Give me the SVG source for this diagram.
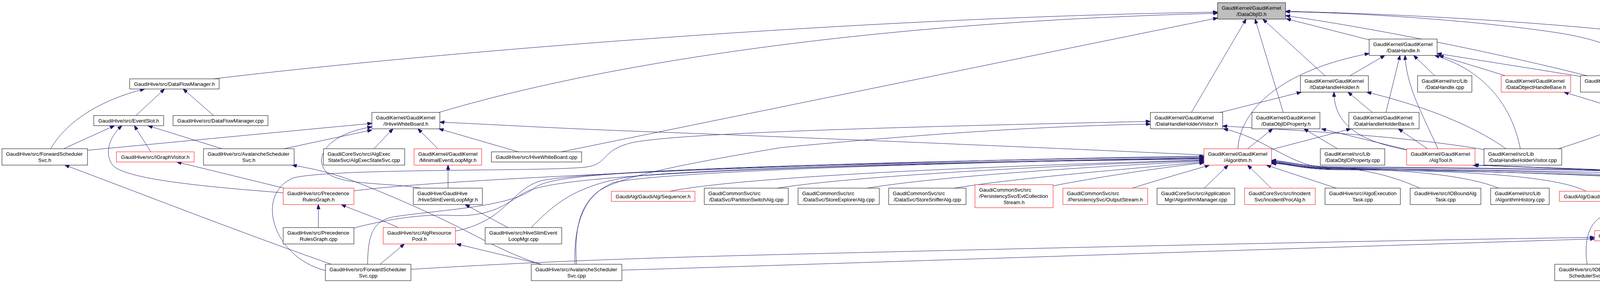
<svg xmlns="http://www.w3.org/2000/svg" width="4994" height="725" viewBox="0 0 4994 725">
<style>
.n rect{fill:#fff;stroke:#000;stroke-width:1}
.r rect{stroke:#f00}
.g rect{fill:#bfbfbf}
text{font-family:"Liberation Sans",Arial,Helvetica,sans-serif;font-size:13.33px;fill:#000}
.m{text-anchor:middle}
.s{text-anchor:start}
#edges path{fill:none;stroke:#191970;stroke-width:1;marker-end:url(#a)}
</style>
<defs>
<marker id="a" markerUnits="userSpaceOnUse" markerWidth="12" markerHeight="9" viewBox="0 0 12 9" refX="11.5" refY="4.5" orient="auto"><path d="M0,0 L12,4.5 L0,9 z" fill="#191970" stroke="#191970" stroke-width="1"/></marker>
</defs>
<rect x="0" y="0" width="4994" height="725" fill="#fff"/>
<g id="edges">
<path d="M547,202 C1100,135 2200,45 3117,31"/>
<path d="M1124,288 C1450,190 2100,60 3117,34"/>
<path d="M1437,389 L3117,46"/>
<path d="M3050,288 L3190,49"/>
<path d="M3285,288 L3213,49"/>
<path d="M3392,194 L3233,49"/>
<path d="M3505,102 L3293,48"/>
<path d="M4300,100 C4150,72 3700,38 3291,29"/>
<path d="M3990,381 C4150,330 4250,290 4247,235 C4245,170 4150,110 3994,85 C3800,55 3500,33 3291,30"/>
<path d="M4063,194 C3800,128 3500,70 3291,40"/>
<path d="M3169,381 C3175,280 3280,180 3505,137"/>
<path d="M3456,194 L3545,142"/>
<path d="M3548,288 L3584,142"/>
<path d="M3681,381 C3640,290 3600,220 3597,142"/>
<path d="M3673,194 L3619,142"/>
<path d="M3892,381 C3870,270 3800,180 3673,142"/>
<path d="M3854,194 L3684,142"/>
<path d="M4048,196 L3679,137"/>
<path d="M3124,288 L3331,236"/>
<path d="M3601,384 C3500,365 3415,330 3415,236"/>
<path d="M3513,288 L3451,236"/>
<path d="M3855,381 C3770,320 3640,270 3499,236"/>
<path d="M4807,482 L4004,236"/>
<path d="M3255,383 L3458,330"/>
<path d="M3654,381 L3580,330"/>
<path d="M3194,381 L3258,330"/>
<path d="M3424,381 L3338,330"/>
<path d="M3600,383 L3383,330"/>
<path d="M3799,383 C3600,350 3350,335 3130,323"/>
<path d="M4063,677 C4055,620 4065,575 4100,555 C4150,545 4245,540 4262,515 C4275,490 4240,462 4180,455 C3900,440 3500,432 3380,428 C3300,420 3230,350 3132,330"/>
<path d="M833,693 C700,660 650,500 750,456 C850,430 1400,440 1500,428 C1560,420 1535,385 1620,365 C1750,340 2300,325 2945,311"/>
<path d="M1476,677 C1470,600 1480,520 1540,485 C1600,450 1750,420 2000,378 C2400,340 2700,322 2945,318"/>
<path d="M224,385 L952,316"/>
<path d="M727,381 L952,333"/>
<path d="M1076,482 C1000,468 880,475 840,445 C800,410 830,345 952,325"/>
<path d="M957,381 L1006,330"/>
<path d="M1121,381 L1070,330"/>
<path d="M1327,389 L1124,330"/>
<path d="M3082,397 C2600,375 2000,350 1674,338 C1400,328 1250,318 1126,313"/>
<path d="M130,381 C170,310 260,255 370,228"/>
<path d="M348,296 L421,228"/>
<path d="M547,296 L469,228"/>
<path d="M163,381 L293,322"/>
<path d="M725,494 C550,480 330,462 290,425 C265,395 280,350 312,322"/>
<path d="M386,389 L344,322"/>
<path d="M568,381 L379,322"/>
<path d="M727,482 L453,415"/>
<path d="M815,583 L815,524"/>
<path d="M1019,583 C970,560 910,540 874,524"/>
<path d="M1383,677 C1300,650 1230,610 1180,585 C1100,545 1000,500 900,462 C840,440 790,430 748,423"/>
<path d="M848,677 C600,590 320,480 166,423"/>
<path d="M973,677 L1035,625"/>
<path d="M1386,677 L1169,625"/>
<path d="M1300,583 L1191,524"/>
<path d="M1147,482 L1147,423"/>
<path d="M906,489 C1150,455 2300,410 3082,400"/>
<path d="M1166,592 C1300,565 1310,480 1390,462 C1550,432 2500,408 3082,402"/>
<path d="M941,677 C942,600 955,565 1010,555 C1150,535 1310,530 1370,480 C1420,445 1650,428 3082,404"/>
<path d="M1472,677 C1468,585 1490,500 1570,468 C1700,436 2600,412 3082,406"/>
<path d="M1360,583 C1420,520 1480,472 1620,452 C1850,428 2600,412 3082,408"/>
<path d="M906,584 C1000,560 1080,548 1160,552 C1260,556 1300,520 1340,495 C1400,458 1700,430 3082,405"/>
<path d="M1715,490 C1850,462 2300,432 3082,410"/>
<path d="M1990,482 C2200,448 2800,420 3082,411"/>
<path d="M2220,482 C2400,452 2800,426 3082,413"/>
<path d="M2443,482 C2600,456 2900,432 3082,415"/>
<path d="M2696,476 C2800,456 2950,432 3082,417"/>
<path d="M2899,482 C2960,462 3040,440 3096,423"/>
<path d="M3083,482 L3144,423"/>
<path d="M3254,482 L3194,423"/>
<path d="M3421,482 L3242,423"/>
<path d="M3634,482 C3590,460 3500,432 3420,430 C3330,430 3290,419 3255,419"/>
<path d="M3836,482 C3760,450 3600,434 3420,432 C3330,431 3290,417 3255,417"/>
<path d="M4061,490 C3990,455 3800,437 3420,434 C3330,433 3290,416 3255,416"/>
<path d="M4466,482 C4300,446 3900,436 3420,431 C3330,430 3290,414 3255,414"/>
<path d="M4790,482 C4600,442 4000,432 3420,429 C3330,428 3290,412 3255,412"/>
<path d="M4224,591 C4262,555 4290,510 4287,485 C4282,465 4240,455 4185,453 C3900,440 3600,436 3420,435 C3330,434 3290,418 3255,418"/>
<path d="M4341,677 C4350,600 4345,530 4313,485 C4290,460 4230,446 4185,444 C3900,436 3600,433 3420,433 C3330,432 3290,415 3255,415"/>
<path d="M4645,685 C4800,650 4938,600 4975,550 C4995,510 4985,475 4930,462 C4700,440 3800,430 3420,427 C3330,427 3290,411 3255,411"/>
<path d="M4640,482 C4450,446 4000,432 3770,423"/>
<path d="M4795,482 C4600,446 4000,432 3772,423"/>
<path d="M4568,685 C4504,601 4440,532 4345,475 C4250,440 4000,430 3774,423"/>
<path d="M1052,690 C1250,678 1500,664 2000,652 C2800,632 3500,617 4082,608"/>
<path d="M1592,692 C2000,680 3200,640 4082,612"/>
<path d="M4099,677 L4179,617"/>
<path d="M4303,677 L4227,617"/>
<path d="M4523,685 L4255,617"/>
<path d="M4313,591 L4791,524"/>
<path d="M4389,677 L4804,524"/>
</g>
<g id="n0" class="n g"><rect x="3117" y="7" width="174" height="42"/><text class="s" x="3127.5" y="24.5">GaudiKernel/GaudiKernel</text><text class="m" x="3204" y="40.5">/DataObjID.h</text></g>
<g id="n1" class="n"><rect x="3505" y="100" width="174" height="42"/><text class="s" x="3515.5" y="117.5">GaudiKernel/GaudiKernel</text><text class="m" x="3592" y="133.5">/DataHandle.h</text></g>
<g id="n2" class="n"><rect x="4293" y="100" width="139" height="42"/><text class="s" x="4303.5" y="117.5">GaudiKernel/src/Lib</text><text class="m" x="4362.5" y="133.5">/DataObjID.cpp</text></g>
<g id="n3" class="n"><rect x="332" y="202" width="229" height="26"/><text class="m" x="446.5" y="220">GaudiHive/src/DataFlowManager.h</text></g>
<g id="n4" class="n"><rect x="3329" y="194" width="174" height="42"/><text class="s" x="3339.5" y="211.5">GaudiKernel/GaudiKernel</text><text class="m" x="3416" y="227.5">/IDataHandleHolder.h</text></g>
<g id="n5" class="n"><rect x="3629" y="194" width="139" height="42"/><text class="s" x="3639.5" y="211.5">GaudiKernel/src/Lib</text><text class="m" x="3698.5" y="227.5">/DataHandle.cpp</text></g>
<g id="n6" class="n r"><rect x="3843" y="194" width="178" height="42"/><text class="s" x="3853.5" y="211.5">GaudiKernel/GaudiKernel</text><text class="m" x="3932" y="227.5">/DataObjectHandleBase.h</text></g>
<g id="n7" class="n"><rect x="4046" y="194" width="173" height="42"/><text class="s" x="4056.5" y="211.5">GaudiKernel/GaudiKernel</text><text class="m" x="4132.5" y="227.5">/ICondSvc.h</text></g>
<g id="n8" class="n"><rect x="240" y="296" width="179" height="26"/><text class="m" x="329.5" y="314">GaudiHive/src/EventSlot.h</text></g>
<g id="n9" class="n"><rect x="443" y="296" width="243" height="26"/><text class="m" x="564.5" y="314">GaudiHive/src/DataFlowManager.cpp</text></g>
<g id="n10" class="n"><rect x="952" y="288" width="174" height="42"/><text class="s" x="962.5" y="305.5">GaudiKernel/GaudiKernel</text><text class="m" x="1039" y="321.5">/IHiveWhiteBoard.h</text></g>
<g id="n11" class="n"><rect x="2945" y="288" width="185" height="42"/><text class="s" x="2955.5" y="305.5">GaudiKernel/GaudiKernel</text><text class="m" x="3037.5" y="321.5">/DataHandleHolderVisitor.h</text></g>
<g id="n12" class="n"><rect x="3205" y="288" width="174" height="42"/><text class="s" x="3215.5" y="305.5">GaudiKernel/GaudiKernel</text><text class="m" x="3292" y="321.5">/DataObjIDProperty.h</text></g>
<g id="n13" class="n"><rect x="3453" y="288" width="180" height="42"/><text class="s" x="3463.5" y="305.5">GaudiKernel/GaudiKernel</text><text class="m" x="3543" y="321.5">/DataHandleHolderBase.h</text></g>
<g id="n14" class="n"><rect x="5" y="381" width="219" height="42"/><text class="s" x="15.5" y="398.5">GaudiHive/src/ForwardScheduler</text><text class="m" x="114.5" y="414.5">Svc.h</text></g>
<g id="n15" class="n r"><rect x="298" y="389" width="199" height="26"/><text class="m" x="397.5" y="407">GaudiHive/src/IGraphVisitor.h</text></g>
<g id="n16" class="n"><rect x="521" y="381" width="232" height="42"/><text class="s" x="531.5" y="398.5">GaudiHive/src/AvalancheScheduler</text><text class="m" x="637" y="414.5">Svc.h</text></g>
<g id="n17" class="n"><rect x="828" y="381" width="208" height="42"/><text class="s" x="838.5" y="398.5">GaudiCoreSvc/src/AlgExec</text><text class="m" x="932" y="414.5">StateSvc/AlgExecStateSvc.cpp</text></g>
<g id="n18" class="n r"><rect x="1060" y="381" width="173" height="42"/><text class="s" x="1070.5" y="398.5">GaudiKernel/GaudiKernel</text><text class="m" x="1146.5" y="414.5">/MinimalEventLoopMgr.h</text></g>
<g id="n19" class="n"><rect x="1258" y="389" width="231" height="26"/><text class="m" x="1373.5" y="407">GaudiHive/src/HiveWhiteBoard.cpp</text></g>
<g id="n20" class="n r"><rect x="3082" y="381" width="173" height="42"/><text class="s" x="3092.5" y="398.5">GaudiKernel/GaudiKernel</text><text class="m" x="3168.5" y="414.5">/Algorithm.h</text></g>
<g id="n21" class="n"><rect x="3380" y="381" width="165" height="42"/><text class="s" x="3390.5" y="398.5">GaudiKernel/src/Lib</text><text class="m" x="3462.5" y="414.5">/DataObjIDProperty.cpp</text></g>
<g id="n22" class="n r"><rect x="3601" y="381" width="175" height="42"/><text class="s" x="3611.5" y="398.5">GaudiKernel/GaudiKernel</text><text class="m" x="3688.5" y="414.5">/AlgTool.h</text></g>
<g id="n23" class="n"><rect x="3799" y="381" width="199" height="42"/><text class="s" x="3809.5" y="398.5">GaudiKernel/src/Lib</text><text class="m" x="3898.5" y="414.5">/DataHandleHolderVisitor.cpp</text></g>
<g id="n24" class="n r"><rect x="725" y="482" width="181" height="42"/><text class="s" x="735.5" y="499.5">GaudiHive/src/Precedence</text><text class="m" x="815.5" y="515.5">RulesGraph.h</text></g>
<g id="n25" class="n"><rect x="1058" y="482" width="177" height="42"/><text class="s" x="1068.5" y="499.5">GaudiHive/GaudiHive</text><text class="m" x="1146.5" y="515.5">/HiveSlimEventLoopMgr.h</text></g>
<g id="n26" class="n r"><rect x="1565" y="490" width="214" height="26"/><text class="m" x="1672" y="508">GaudiAlg/GaudiAlg/Sequencer.h</text></g>
<g id="n27" class="n"><rect x="1803" y="482" width="215" height="42"/><text class="s" x="1813.5" y="499.5">GaudiCommonSvc/src</text><text class="m" x="1910.5" y="515.5">/DataSvc/PartitionSwitchAlg.cpp</text></g>
<g id="n28" class="n"><rect x="2043" y="482" width="208" height="42"/><text class="s" x="2053.5" y="499.5">GaudiCommonSvc/src</text><text class="m" x="2147" y="515.5">/DataSvc/StoreExplorerAlg.cpp</text></g>
<g id="n29" class="n"><rect x="2275" y="482" width="198" height="42"/><text class="s" x="2285.5" y="499.5">GaudiCommonSvc/src</text><text class="m" x="2374" y="515.5">/DataSvc/StoreSnifferAlg.cpp</text></g>
<g id="n30" class="n r"><rect x="2496" y="473" width="200" height="59"/><text class="s" x="2506.5" y="491">GaudiCommonSvc/src</text><text class="s" x="2506.5" y="507">/PersistencySvc/EvtCollection</text><text class="m" x="2596" y="523">Stream.h</text></g>
<g id="n31" class="n r"><rect x="2721" y="482" width="217" height="42"/><text class="s" x="2731.5" y="499.5">GaudiCommonSvc/src</text><text class="m" x="2829.5" y="515.5">/PersistencySvc/OutputStream.h</text></g>
<g id="n32" class="n"><rect x="2962" y="482" width="199" height="42"/><text class="s" x="2972.5" y="499.5">GaudiCoreSvc/src/Application</text><text class="m" x="3061.5" y="515.5">Mgr/AlgorithmManager.cpp</text></g>
<g id="n33" class="n r"><rect x="3186" y="482" width="181" height="42"/><text class="s" x="3196.5" y="499.5">GaudiCoreSvc/src/Incident</text><text class="m" x="3276.5" y="515.5">Svc/IncidentProcAlg.h</text></g>
<g id="n34" class="n"><rect x="3392" y="482" width="193" height="42"/><text class="s" x="3402.5" y="499.5">GaudiHive/src/AlgoExecution</text><text class="m" x="3488.5" y="515.5">Task.cpp</text></g>
<g id="n35" class="n"><rect x="3610" y="482" width="181" height="42"/><text class="s" x="3620.5" y="499.5">GaudiHive/src/IOBoundAlg</text><text class="m" x="3700.5" y="515.5">Task.cpp</text></g>
<g id="n36" class="n"><rect x="3816" y="482" width="150" height="42"/><text class="s" x="3826.5" y="499.5">GaudiKernel/src/Lib</text><text class="m" x="3891" y="515.5">/AlgorithmHistory.cpp</text></g>
<g id="n37" class="n r"><rect x="3992" y="490" width="232" height="26"/><text class="m" x="4108" y="508">GaudiAlg/GaudiAlg/EventCounter.h</text></g>
<g id="n38" class="n"><rect x="4451" y="482" width="142" height="42"/><text class="s" x="4461.5" y="499.5">GaudiPython/src/Lib</text><text class="m" x="4522" y="515.5">/Algorithm.cpp</text></g>
<g id="n39" class="n"><rect x="4617" y="482" width="139" height="42"/><text class="s" x="4627.5" y="499.5">GaudiKernel/src/Lib</text><text class="m" x="4686.5" y="515.5">/AlgTool.cpp</text></g>
<g id="n40" class="n r"><rect x="4780" y="482" width="173" height="42"/><text class="s" x="4790.5" y="499.5">GaudiKernel/GaudiKernel</text><text class="m" x="4866.5" y="515.5">/DataObjectHandle.h</text></g>
<g id="n41" class="n"><rect x="725" y="583" width="181" height="42"/><text class="s" x="735.5" y="600.5">GaudiHive/src/Precedence</text><text class="m" x="815.5" y="616.5">RulesGraph.cpp</text></g>
<g id="n42" class="n r"><rect x="981" y="583" width="185" height="42"/><text class="s" x="991.5" y="600.5">GaudiHive/src/AlgResource</text><text class="m" x="1073.5" y="616.5">Pool.h</text></g>
<g id="n43" class="n"><rect x="1242" y="583" width="196" height="42"/><text class="s" x="1252.5" y="600.5">GaudiHive/src/HiveSlimEvent</text><text class="m" x="1340" y="616.5">LoopMgr.cpp</text></g>
<g id="n44" class="n r"><rect x="4082" y="591" width="241" height="26"/><text class="m" x="4202.5" y="609">GaudiAlg/GaudiAlg/GaudiAlgorithm.h</text></g>
<g id="n45" class="n"><rect x="833" y="677" width="219" height="42"/><text class="s" x="843.5" y="694.5">GaudiHive/src/ForwardScheduler</text><text class="m" x="942.5" y="710.5">Svc.cpp</text></g>
<g id="n46" class="n"><rect x="1360" y="677" width="232" height="42"/><text class="s" x="1370.5" y="694.5">GaudiHive/src/AvalancheScheduler</text><text class="m" x="1476" y="710.5">Svc.cpp</text></g>
<g id="n47" class="n"><rect x="3980" y="677" width="180" height="42"/><text class="s" x="3990.5" y="694.5">GaudiHive/src/IOBoundAlg</text><text class="m" x="4070" y="710.5">SchedulerSvc.cpp</text></g>
<g id="n48" class="n r"><rect x="4235" y="677" width="200" height="42"/><text class="s" x="4245.5" y="694.5">GaudiAlg/GaudiAlg/Functional</text><text class="m" x="4335" y="710.5">Details.h</text></g>
<g id="n49" class="n r"><rect x="4458" y="685" width="236" height="26"/><text class="m" x="4576" y="703">GaudiAlg/src/lib/GaudiCommon.icpp</text></g>
</svg>
